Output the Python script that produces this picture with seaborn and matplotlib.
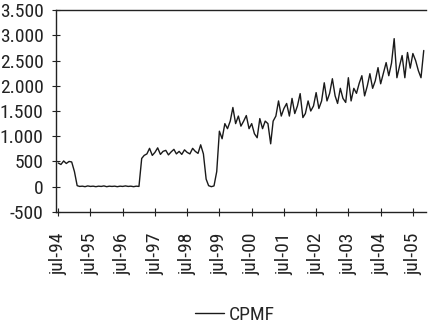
import matplotlib
matplotlib.use("Agg")
import matplotlib.pyplot as plt
import seaborn as sns
import pandas as pd
import numpy as np
from matplotlib.ticker import FuncFormatter
from matplotlib import font_manager
from matplotlib.lines import Line2D

# monthly values starting jul-94
seg_1994 = [470, 440, 510, 460, 500, 490, 300, 20]
seg_zero = [5, 10, 0, 15, 5, 10, 0, 10, 5, 15, 0, 10, 5, 10, 0, 10, 5, 15, 5, 10, 0, 10, 5]
seg_1997 = [560, 620, 650, 760, 620, 680, 770, 640, 700, 720, 630, 690, 740, 650,
            700, 640, 730, 680, 650, 760, 700, 660, 830, 650]
seg_dip = [150, 20, 0, 15, 300]
seg_1999 = [1100, 950, 1250, 1150, 1300, 1570, 1250, 1400, 1200, 1300, 1410, 1150,
            1250, 1050, 970, 1350, 1150, 1300, 1250, 850, 1300, 1400, 1700, 1400,
            1550, 1650, 1400, 1750, 1450, 1600, 1845, 1370, 1450, 1700, 1500, 1600,
            1865, 1550, 1700, 2060, 1700, 1850, 2140, 1800, 1650, 1950, 1750, 1670,
            2160, 1700, 1950, 1850, 2050, 2200, 1800, 2000, 2240, 1950, 2100, 2360,
            2040, 2250, 2460, 2200, 2450, 2935, 2160, 2400, 2600, 2160, 2660, 2350,
            2640, 2500, 2300, 2160, 2700]
values = seg_1994 + seg_zero + seg_1997 + seg_dip + seg_1999
series_name = "CPMF"
tick_years = list(range(1994, 2006))
tick_labels = ["jul-%02d" % (y % 100) for y in tick_years]
y_ticks = [-500, 0, 500, 1000, 1500, 2000, 2500, 3000, 3500]

dates = pd.date_range("1994-07-01", periods=len(values), freq="MS")
df = pd.DataFrame({"fecha": dates, "valor": values, "serie": series_name})

sns.set_style("ticks")

names = {f.name for f in font_manager.fontManager.ttflist}
family = "DejaVu Sans"
fsize = 11
for cand in ["Liberation Sans Narrow", "Roboto Condensed", "Open Sans Condensed",
             "Noto Sans Condensed"]:
    if cand in names:
        family = cand
        fsize = 14
        break
plt.rcParams["font.family"] = [family, "DejaVu Sans"]

fig = plt.figure(figsize=(4.28, 3.27), dpi=100)
ax = fig.add_axes([0.131, 0.352, 0.864, 0.617])
sns.lineplot(data=df, x="fecha", y="valor", hue="serie", palette=["#1a1a1a"],
             linewidth=1.0, ax=ax, legend=False)

ax.set_xlim(pd.Timestamp("1994-06-07"), pd.Timestamp("2005-11-25"))
ax.set_ylim(-500, 3500)
ax.set_yticks(y_ticks)
ax.yaxis.set_major_formatter(FuncFormatter(lambda v, p: f"{int(v):,}".replace(",", ".")))
ax.set_xticks([pd.Timestamp(f"{y}-07-01") for y in tick_years])
ax.set_xticklabels(tick_labels, rotation=90)
ax.set_xlabel("")
ax.set_ylabel("")
for s in ["left", "bottom", "top"]:
    ax.spines[s].set_color("#222222")
    ax.spines[s].set_linewidth(1.0)
ax.spines["right"].set_visible(False)
ax.tick_params(axis="both", direction="inout", length=6, width=0.8, colors="#222222",
               labelsize=fsize)
ax.tick_params(axis="x", pad=12)
ax.tick_params(axis="y", pad=6)

h = Line2D([0], [0], color="#1a1a1a", lw=1.0)
fig.legend([h], [series_name], loc="lower center", bbox_to_anchor=(0.548, -0.045),
           frameon=False, fontsize=fsize, handlelength=1.5, handletextpad=0.25)

fig.savefig("out.png", dpi=100)
